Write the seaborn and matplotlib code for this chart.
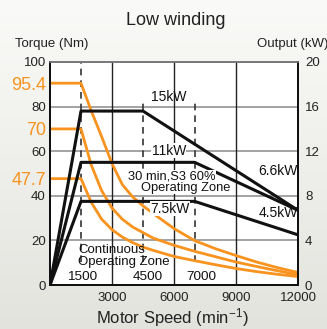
import numpy as np
import pandas as pd
import matplotlib.pyplot as plt
import seaborn as sns
from matplotlib.colors import LinearSegmentedColormap

# torque curves (left axis, Nm)
speed = [0, 1500, 2000, 2500, 3000, 3500, 4000, 4500, 5000, 6000, 7000, 8000, 9000, 10000, 11000, 12000]
torque_15kw = [90.5, 90.5, 78, 66.5, 54.5, 45, 39.5, 35.5, 32, 25.3, 19.9, 16.3, 13.2, 10.3, 7.8, 5.6]
torque_11kw = [70, 70, 53.7, 42.3, 34.5, 29.5, 26, 23.5, 21, 17.8, 15.1, 12.7, 10.3, 8.3, 6.4, 4.6]
torque_7kw5 = [47.7, 47.7, 37, 29.5, 24.8, 21.5, 19, 17, 15.5, 12.8, 10.9, 9.1, 7.4, 6, 4.8, 3.8]
torque_labels = ["95.4", "70", "47.7"]

# output power curves (right axis, kW)
power_speed = [0, 1500, 4500, 12000, 0, 1500, 7000, 12000, 0, 1500, 7000, 12000]
power_kw = [0, 15.6, 15.6, 6.7, 0, 11, 11, 6.7, 0, 7.5, 7.5, 4.5]
power_name = ["15kW"] * 4 + ["11kW"] * 4 + ["7.5kW"] * 4

ref_speed = [1500, 4500, 7000]
ref_labels = ["1500", "4500", "7000"]

orange = "#f7931e"

sns.set_style("white")
plt.rcParams["font.family"] = ["Liberation Sans", "DejaVu Sans"]
plt.rcParams["mathtext.fontset"] = "custom"
plt.rcParams["mathtext.rm"] = "Liberation Sans"
plt.rcParams["mathtext.it"] = "Liberation Sans"

fig = plt.figure(figsize=(3.27, 3.29), dpi=100)
bg = fig.add_axes([0, 0, 1, 1], zorder=-10)
bg.imshow(np.linspace(0, 1, 256)[:, None], aspect="auto", extent=[0, 1, 0, 1],
          cmap=LinearSegmentedColormap.from_list("bg", ["#fafaf8", "#e3e3de"]))
bg.axis("off")

ax = fig.add_axes([50 / 327, 44 / 329, 248 / 327, 223 / 329])
ax.set_facecolor("white")
ax2 = ax.twinx()

# grid
for y in [20, 40, 60, 80]:
    ax.axhline(y, color="#8a8a8a", lw=1.1, zorder=1)
for x in [3000, 6000, 9000]:
    ax.axvline(x, color="#222222", lw=1.0, zorder=1)
tops = [100, 82.4, 82.4]
for x, t in zip(ref_speed, tops):
    ax.vlines(x, 10.2, t, color="#333333", lw=1.2, linestyles=(0, (4, 3)), zorder=1)

torque = pd.DataFrame({
    "speed": speed * 3,
    "torque": torque_15kw + torque_11kw + torque_7kw5,
    "curve": ["a"] * len(speed) + ["b"] * len(speed) + ["c"] * len(speed),
})
sns.lineplot(data=torque, x="speed", y="torque", units="curve", estimator=None,
             sort=False, color=orange, lw=2.0, ax=ax, legend=False, zorder=3)

power = pd.DataFrame({"speed": power_speed, "power": power_kw, "name": power_name})
sns.lineplot(data=power, x="speed", y="power", units="name", estimator=None,
             sort=False, color="#111111", lw=2.2, ax=ax2, legend=False, zorder=3)

ax.set_xlim(0, 12000)
ax.set_ylim(0, 100)
ax2.set_ylim(0, 20)

ax.set_xticks([3000, 6000, 9000, 12000])
ax.set_xticklabels(["3000", "6000", "9000", "12000"], fontsize=9.5, color="#222222")
yt = [0, 20, 40, 60, 80, 100]
ax.set_yticks(yt + [torque_15kw[0], torque_11kw[0], torque_7kw5[0]])
ax.set_yticklabels([str(v) for v in yt] + torque_labels)
for lab in ax.get_yticklabels():
    if lab.get_text() in torque_labels:
        lab.set_color(orange)
        lab.set_fontsize(13)
    else:
        lab.set_color("#222222")
        lab.set_fontsize(9.5)
ax2.set_yticks([0, 4, 8, 12, 16, 20])
ax2.set_yticklabels(["0", "4", "8", "12", "16", "20"], fontsize=9.5, color="#222222")
ax.tick_params(axis="both", length=0, pad=3)
ax.tick_params(axis="x", pad=5)
ax2.tick_params(axis="y", length=0, pad=5)
ax.set_xlabel("")
ax.set_ylabel("")
ax2.set_ylabel("")

for a in (ax, ax2):
    for s in ["left", "bottom", "right"]:
        a.spines[s].set_color("#111111")
        a.spines[s].set_linewidth(1.4)
    a.spines["top"].set_color("#777777")
    a.spines["top"].set_linewidth(1.2)

# annotations
white = dict(facecolor="white", edgecolor="none", pad=0.3)
ax2.text(5750, 84.2 / 5, "15kW", fontsize=10, ha="center", va="center", color="#111111")
ax2.text(5750, 60.2 / 5, "11kW", fontsize=10, ha="center", va="center", color="#111111", bbox=white)
ax2.text(5800, 34.2 / 5, "7.5kW", fontsize=10, ha="center", va="center", color="#111111", bbox=white)
ax2.text(11980, 50.9 / 5, "6.6kW", fontsize=10, ha="right", va="center", color="#111111")
ax2.text(11980, 32.4 / 5, "4.5kW", fontsize=10, ha="right", va="center", color="#111111")
ax2.text(3780, 48.7 / 5, "30 min,S3 60%", fontsize=9.3, ha="left", va="center", color="#111111",
         bbox=white)
ax2.text(4400, 43.5 / 5, "Operating Zone", fontsize=9.3, ha="left", va="center", color="#111111",
         bbox=white)
ax.text(1350, 15.8, "Continuous", fontsize=9.5, ha="left", va="center", color="#111111")
ax.text(1350, 10.5, "Operating Zone", fontsize=9.5, ha="left", va="center", color="#111111")
for x, lab in zip([1530, 4750, 7330], ref_labels):
    ax.text(x, 3.6, lab, fontsize=9.7, ha="center", va="center", color="#111111")

fig.text(176 / 327, 1 - 20.7 / 329, "Low winding", fontsize=13, ha="center", va="center", color="#222222")
fig.text(51.5 / 327, 1 - 44 / 329, "Torque (Nm)", fontsize=9.5, ha="center", va="center", color="#222222")
fig.text(256.7 / 327, 1 - 44 / 329, "Output (kW)", fontsize=9.5, ha="left", va="center", color="#222222")
fig.text(172.5 / 327, 1 - 318 / 329, "Motor Speed (min$^{-1}$)", fontsize=12, ha="center",
         va="center", color="#222222")

fig.savefig("out.png", dpi=100)
